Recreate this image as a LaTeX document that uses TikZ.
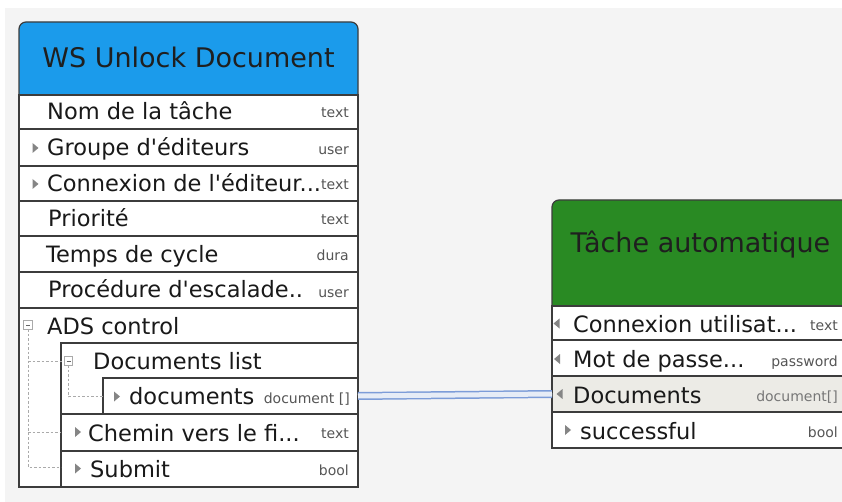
\documentclass[tikz,border=0pt]{standalone}
\usepackage{fontspec}
\setmainfont{DejaVu Sans}[Ligatures=TeXOff]
\definecolor{bgc}{HTML}{F4F4F4}
\definecolor{hblue}{HTML}{1B9BEB}
\definecolor{hgreen}{HTML}{298A23}
\definecolor{bord}{HTML}{3C3C3C}
\definecolor{tric}{HTML}{858585}
\definecolor{typec}{HTML}{555555}
\definecolor{selrow}{HTML}{ECEBE6}
\definecolor{connout}{HTML}{7C9CD8}
\definecolor{connin}{HTML}{E6ECF6}
\definecolor{treec}{HTML}{AAAAAA}
\newcommand\mytriR[2]{\fill[tric] ({#1-3},{#2-5}) -- ({#1+3},{#2}) -- ({#1-3},{#2+5}) -- cycle;}
\newcommand\mytriL[2]{\fill[tric] ({#1+3},{#2-5}) -- ({#1-3},{#2}) -- ({#1+3},{#2+5}) -- cycle;}
\newcommand\myminus[2]{\draw[treec, line width=0.8pt, fill=white] ({#1-4.2},{#2-4.2}) rectangle ({#1+4.2},{#2+4.2});
  \draw[treec!60!black, line width=0.8pt] ({#1-2},{#2}) -- ({#1+2},{#2});}
\begin{document}
\begin{tikzpicture}[x=1pt,y=-1pt,
  boxbase/.style={anchor=north west, inner sep=0pt, outer sep=0pt, draw=bord, line width=1.2pt},
  rowbox/.style={boxbase, fill=white},
  titletxt/.style={font=\fontsize{27}{30}\selectfont, inner sep=0pt, text=black!88, anchor=base},
  rowtxt/.style={font=\fontsize{22.5}{26}\selectfont, inner sep=0pt, text=black!90, anchor=base west},
  typetxt/.style={font=\fontsize{14}{16}\selectfont, inner sep=0pt, text=typec, anchor=base east},
  treeline/.style={draw=treec, line width=0.8pt, dash pattern=on 2.5pt off 2pt},
  conn/.style={draw=connout, line width=1.5pt, double=connin, double distance=5pt}]
\clip (0,0) rectangle (842,502);
\useasboundingbox (0,0) rectangle (842,502);
\fill[white] (0,0) rectangle (842,502);
\fill[bgc] (5,8) rectangle (842,502);

% ---------- left box ----------
\node[boxbase, fill=hblue, rounded corners=7pt, minimum width=339pt, minimum height=465pt] (lbox) at (19,22) {};
\node[titletxt] (ltitle) at (188.5,68) {WS Unlock Document};

\node[rowbox, minimum width=339pt, minimum height=34pt] (r1) at (19,95) {};
\node[rowbox, minimum width=339pt, minimum height=37pt] (r2) at (19,129) {};
\node[rowbox, minimum width=339pt, minimum height=35pt] (r3) at (19,166) {};
\node[rowbox, minimum width=339pt, minimum height=35pt] (r4) at (19,201) {};
\node[rowbox, minimum width=339pt, minimum height=36pt] (r5) at (19,236) {};
\node[rowbox, minimum width=339pt, minimum height=36pt] (r6) at (19,272) {};
\node[rowbox, minimum width=339pt, minimum height=179pt] (ads) at (19,308) {};
\node[rowbox, minimum width=297pt, minimum height=71pt] (dlist) at (61,343) {};
\node[rowbox, minimum width=255pt, minimum height=36pt] (docs) at (103,378) {};
\node[rowbox, minimum width=297pt, minimum height=37pt] (chemin) at (61,414) {};
\node[rowbox, minimum width=297pt, minimum height=36pt] (submit) at (61,451) {};

\node[rowtxt] (t1) at (47,120) {Nom de la tâche};
\node[rowtxt] (t2) at (47,156) {Groupe d'éditeurs};
\node[rowtxt] (t3) at (47,192) {Connexion de l'éditeur...};
\node[rowtxt] (t4) at (48,227) {Priorité};
\node[rowtxt] (t5) at (46,262) {Temps de cycle};
\node[rowtxt] (t6) at (48,298) {Procédure d'escalade..};
\node[rowtxt] (t7) at (47,334) {ADS control};
\node[rowtxt] (t8) at (93,369) {Documents list};
\node[rowtxt] (t9) at (129,404) {documents};
\node[rowtxt] (t10) at (88,441) {Chemin vers le fi...};
\node[rowtxt] (t11) at (90,477) {Submit};

\node[typetxt] (y1) at (349,118) {text};
\node[typetxt] (y2) at (349,155) {user};
\node[typetxt] (y3) at (349,190) {text};
\node[typetxt] (y4) at (349,225) {text};
\node[typetxt] (y5) at (349,261) {dura};
\node[typetxt] (y6) at (349,297) {user};
\node[typetxt] (y9) at (350,403) {document []};
\node[typetxt] (y10) at (349,438) {text};
\node[typetxt] (y11) at (349,475) {bool};

\mytriR{35.5}{148}
\mytriR{35.5}{184}
\mytriR{117}{396.5}
\mytriR{78}{432}
\mytriR{78}{468.5}

\draw[treeline] (28,329) -- (28,467) -- (61,467);
\draw[treeline] (28,361) -- (64,361);
\draw[treeline] (28,432) -- (61,432);
\draw[treeline] (68.5,365) -- (68.5,396.5) -- (103,396.5);
\myminus{28}{325}
\myminus{68.5}{361}

% ---------- right box ----------
\node[boxbase, fill=hgreen, rounded corners=7pt, minimum width=300pt, minimum height=248pt] (rbox) at (552,200) {};
\node[titletxt] (rtitle) at (700.5,253) {Tâche automatique};

\node[rowbox, minimum width=300pt, minimum height=34pt] (q1) at (552,306) {};
\node[rowbox, minimum width=300pt, minimum height=36pt] (q2) at (552,340) {};
\node[rowbox, fill=selrow, minimum width=300pt, minimum height=36pt] (rdocs) at (552,376) {};
\node[rowbox, minimum width=300pt, minimum height=36pt] (q4) at (552,412) {};

\node[rowtxt] (u1) at (573,332) {Connexion utilisat...};
\node[rowtxt] (u2) at (573,367) {Mot de passe...};
\node[rowtxt] (u3) at (573,403) {Documents};
\node[rowtxt] (u4) at (580,439) {successful};

\node[typetxt] (z1) at (838,330) {text};
\node[typetxt] (z2) at (838,366) {password};
\node[typetxt, text=typec!80] (z3) at (838,401) {document[]};
\node[typetxt] (z4) at (838,437) {bool};

% ---------- connector ----------
\draw[conn] (docs.east) -- (rdocs.west);

\mytriL{556.5}{323.5}
\mytriL{557}{359}
\mytriL{559.5}{394}
\mytriR{568}{430}
\end{tikzpicture}
\end{document}
